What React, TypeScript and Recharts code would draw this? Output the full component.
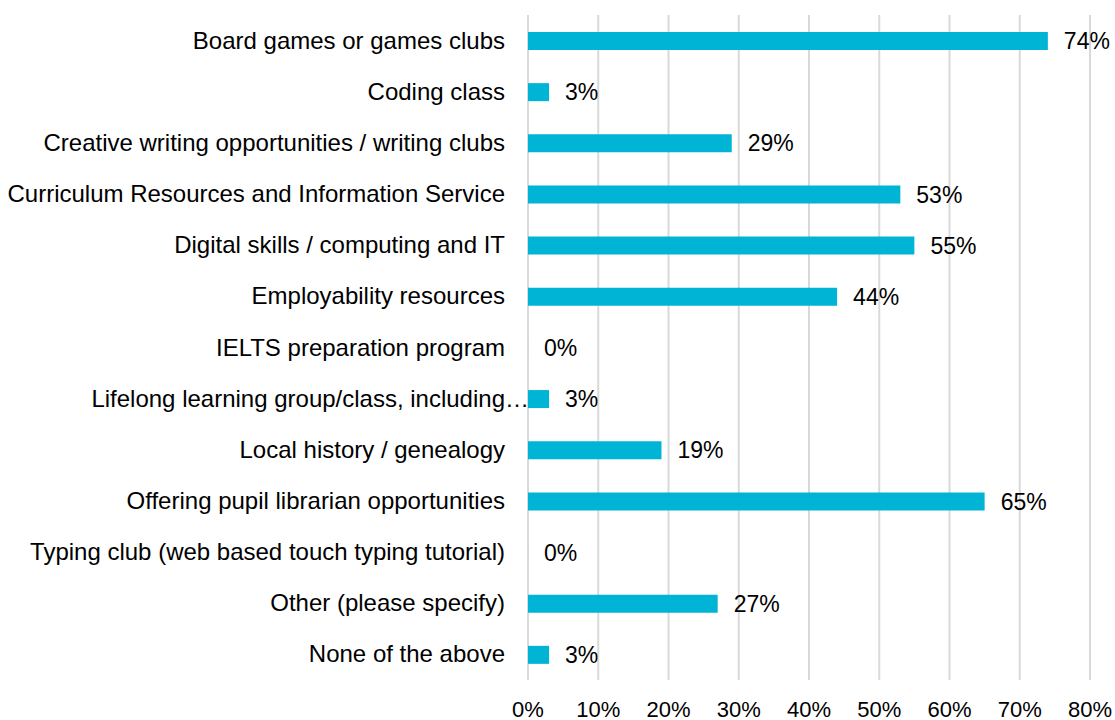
import { BarChart, Bar, XAxis, YAxis, CartesianGrid, LabelList } from "recharts";

const categories = [
  "Board games or games clubs",
  "Coding class",
  "Creative writing opportunities / writing clubs",
  "Curriculum Resources and Information Service",
  "Digital skills / computing and IT",
  "Employability resources",
  "IELTS preparation program",
  "Lifelong learning group/class, including…",
  "Local history / genealogy",
  "Offering pupil librarian opportunities",
  "Typing club (web based touch typing tutorial)",
  "Other (please specify)",
  "None of the above",
];

const shares = [74, 3, 29, 53, 55, 44, 0, 3, 19, 65, 0, 27, 3];

const xTicks = [0, 10, 20, 30, 40, 50, 60, 70, 80];

const data = categories.map((name, i) => ({ name, value: shares[i] }));

const FONT = "'Liberation Sans', Arial, sans-serif";

function CategoryTick(props: any) {
  const { x, y, payload } = props;
  const label: string = payload.value;
  // the long one overruns the axis, as in the original
  const truncated = label.endsWith("…");
  return (
    <text
      x={truncated ? x + 9 : x - 15}
      y={y}
      dy={8}
      textAnchor="end"
      fontSize={24}
      fontFamily={FONT}
      fill="#000"
    >
      {label}
    </text>
  );
}

export default function App() {
  return (
    <div style={{ position: "absolute", left: 0, top: 0, background: "#fff" }}>
      <BarChart
        width={1115}
        height={720}
        data={data}
        layout="vertical"
        margin={{ top: 15, right: 25, left: 0, bottom: 0 }}
        barCategoryGap={0}
      >
        <CartesianGrid horizontal={false} stroke="#d9d9d9" strokeWidth={2} />
        <XAxis
          type="number"
          domain={[0, 80]}
          ticks={xTicks}
          tickFormatter={(v: number) => `${v}%`}
          axisLine={false}
          tickLine={false}
          height={40}
          tickMargin={15}
          tick={{ fontSize: 22, fill: "#000", fontFamily: FONT }}
          interval={0}
        />
        <YAxis
          type="category"
          dataKey="name"
          width={528}
          axisLine={false}
          tickLine={false}
          interval={0}
          tick={<CategoryTick />}
        />
        <Bar
          dataKey="value"
          fill="#00B4D6"
          barSize={18}
          minPointSize={0.01}
          isAnimationActive={false}
        >
          <LabelList
            dataKey="value"
            position="right"
            offset={16}
            formatter={(v: number) => `${v}%`}
            style={{ fontSize: 23, fill: "#000", fontFamily: FONT }}
          />
        </Bar>
      </BarChart>
    </div>
  );
}
